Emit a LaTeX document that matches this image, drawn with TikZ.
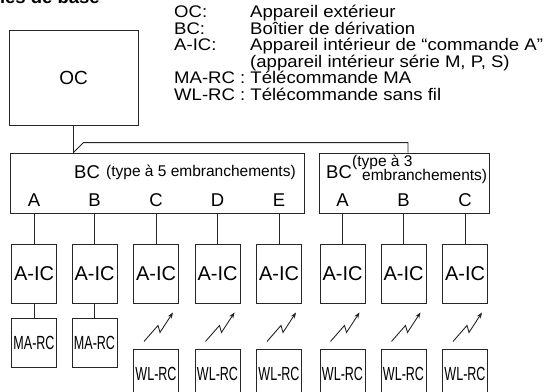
\documentclass[tikz,border=0pt]{standalone}
\usepackage{fontspec}
\setmainfont{Liberation Sans}
\usetikzlibrary{arrows.meta}
\newcommand{\fsz}[1]{\fontsize{#1}{#1}\selectfont}
\newcommand{\lgt}[1]{\scalebox{1.06}[0.96]{#1}}
\begin{document}
\begin{tikzpicture}[x=1pt,y=-1pt,
  ln/.style={draw=black!85, line width=0.9pt},
  box/.style={ln, rectangle, inner sep=0pt},
  aic/.style={box, minimum width=45pt, minimum height=59pt, font=\fsz{20}},
  rc/.style={box, minimum width=45pt, minimum height=49pt, font=\fsz{19}},
  big/.style={inner sep=0pt, font=\fsz{18.5}},
  small/.style={inner sep=0pt, font=\fsz{15.5}},
  lg/.style={inner sep=0pt, anchor=base west, font=\fsz{17.5}},
  bolt/.style={ln, -{Stealth[length=6pt,width=4.5pt]}}]
\useasboundingbox (0,0) rectangle (546,391);
\clip (0,0) rectangle (546,391);

% title (cut at top)
\node[inner sep=0pt, anchor=base east, font=\fsz{18.5}\bfseries] (title) at (100,3.5) {Systèmes de base};

% legend
\node[lg] (l1) at (174,17.5) {\lgt{OC:}};
\node[lg] (d1) at (250,17.5) {\lgt{Appareil extérieur}};
\node[lg] (l2) at (174,34) {\lgt{BC:}};
\node[lg] (d2) at (250,34) {\lgt{Boîtier de dérivation}};
\node[lg] (l3) at (174,50.5) {\lgt{A-IC:}};
\node[lg] (d3) at (250,50.5) {\lgt{Appareil intérieur de “commande A”}};
\node[lg] (d4) at (250,67) {\lgt{(appareil intérieur série M, P, S)}};
\node[lg] (l5) at (174,83.5) {\lgt{MA-RC : Télécommande MA}};
\node[lg] (l6) at (174,100) {\lgt{WL-RC : Télécommande sans fil}};

% outdoor unit
\node[box, minimum width=129pt, minimum height=95pt, font=\fsz{19}] (oc) at (73.5,77.5) {OC};

% branch boxes
\node[box, minimum width=294pt, minimum height=60pt] (bc5) at (157,183) {};
\node[box, minimum width=170pt, minimum height=60pt] (bc3) at (404,183) {};

\node[big, anchor=base west] (bc5t) at (74,178) {BC};
\node[small, anchor=base west] (bc5s) at (106,176) {(type à 5 embranchements)};
\node[big, anchor=base west] (bc3t) at (326,178) {BC};
\node[small, anchor=base west] (bc3s1) at (352,166) {(type à 3};
\node[small, anchor=base west] (bc3s2) at (362,180.5) {embranchements)};

% indoor units
\foreach \n/\x/\l in {1/34/A,2/94.5/B,3/156/C,4/217.5/D,5/279/E,6/342.5/A,7/403.5/B,8/465/C}{
  \node[aic] (aic\n) at (\x,273.5) {A-IC};
  \node[big, anchor=base] (let\n) at (\x,206) {\l};
}
\foreach \n in {1,...,5}{\draw[ln] (aic\n.north) -- (aic\n.north |- bc5.south);}
\foreach \n in {6,7,8}{\draw[ln] (aic\n.north) -- (aic\n.north |- bc3.south);}

% wired remote controllers
\foreach \n in {1,2}{
  \node[rc] (ma\n) at (aic\n |- 0,342.5) {\scalebox{0.66}[1]{MA-RC}};
  \draw[ln] (aic\n.south) -- (ma\n.north);
}
% wireless remote controllers
\foreach \n in {3,...,8}{
  \node[rc] (wl\n) at (aic\n |- 0,373.5) {\scalebox{0.66}[1]{WL-RC}};
  \draw[bolt] ([shift={(-12,38)}]aic\n.south) -- ++(14,-16) -- ++(2,7) -- ++(13,-20);
}

% OC connection
\coordinate (j) at (oc.south |- bc5.north);
\draw[ln] (oc.south) -- (j);
\draw[ln] (j) -- ++(10,-10) -| ([xshift=4pt]bc3.north);
\end{tikzpicture}
\end{document}
